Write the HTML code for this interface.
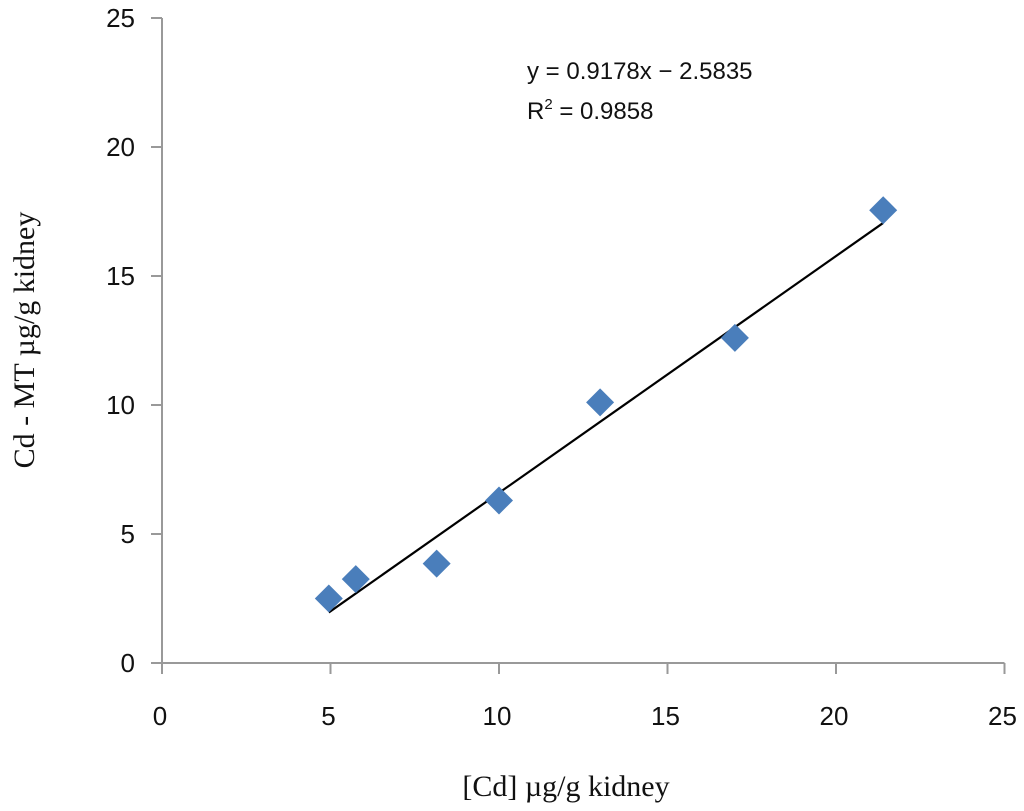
<!DOCTYPE html>
<html><head><meta charset="utf-8"><style>
body{margin:0;background:#fff;}
svg{display:block;}
.t{font-family:"Liberation Sans",sans-serif;font-size:26px;fill:#111;}
.e{font-family:"Liberation Sans",sans-serif;font-size:24px;fill:#111;}
.s{font-family:"Liberation Serif",serif;font-size:30px;fill:#111;}
</style></head><body>
<svg id="c" width="1024" height="811"></svg>
<script>
const xTicks=[0,5,10,15,20,25];
const yTicks=[0,5,10,15,20,25];
const xVals=[4.95,5.75,8.15,10,13,17,21.4];
const yVals=[2.5,3.25,3.85,6.3,10.1,12.6,17.55];
const slope=0.9178, intercept=-2.5835;
const ns="http://www.w3.org/2000/svg";
const svg=document.getElementById('c');
const X=v=>162+v*33.7;
const Y=v=>663-v*25.8;
function el(tag,attrs,txt){const e=document.createElementNS(ns,tag);for(const k in attrs)e.setAttribute(k,attrs[k]);if(txt!==undefined)e.textContent=txt;svg.appendChild(e);return e;}
let a=el('line',{x1:X(0),y1:Y(0),x2:X(25),y2:Y(0),stroke:'#999','stroke-width':2});


a=el('line',{x1:X(0),y1:Y(0),x2:X(0),y2:Y(25),stroke:'#999','stroke-width':2});


xTicks.forEach(v=>{
 let t=el('line',{x1:X(v),y1:Y(0),x2:X(v),y2:Y(0)+11,stroke:'#999','stroke-width':2});
 
 
 let l=el('text',{x:X(v)-2,y:725,'text-anchor':'middle',class:'t'},String(v));
 
 
});
yTicks.forEach(v=>{
 let t=el('line',{x1:X(0)-11,y1:Y(v),x2:X(0),y2:Y(v),stroke:'#999','stroke-width':2});
 
 
 let l=el('text',{x:135,y:Y(v)+9,'text-anchor':'end',class:'t'},String(v));
 
 
});
const x0=Math.min(...xVals), x1=Math.max(...xVals);
let tl=el('line',{x1:X(x0),y1:Y(slope*x0+intercept),x2:X(x1),y2:Y(slope*x1+intercept),stroke:'#000','stroke-width':2.2});


xVals.forEach((v,i)=>{
 const cx=X(v),cy=Y(yVals[i]),r=14;
 let p=el('polygon',{points:`${cx},${cy-r} ${cx+r},${cy} ${cx},${cy+r} ${cx-r},${cy}`,fill:'#4a7ebb'});
 
 
});
let e=el('text',{x:527,y:79,class:'e'},'y = 0.9178x − 2.5835');


e=el('text',{x:527,y:119,class:'e'});


e.innerHTML='R<tspan dy="-10" font-size="15">2</tspan><tspan dy="10"> = 0.9858</tspan>';
e=el('text',{x:566,y:796,'text-anchor':'middle',class:'s'},'[Cd] µg/g kidney');


e=el('text',{x:0,y:0,'text-anchor':'middle',class:'s',transform:'translate(34,340) rotate(-90)'},'Cd - MT µg/g kidney');


</script>
</body></html>
